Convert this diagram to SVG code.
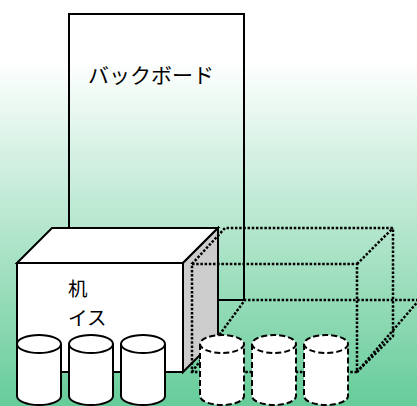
<svg xmlns="http://www.w3.org/2000/svg" width="417" height="406" viewBox="0 0 417 406">
  <defs>
    <linearGradient id="bg" x1="0" y1="0" x2="0" y2="406" gradientUnits="userSpaceOnUse">
      <stop offset="0.148" stop-color="#ffffff"/>
      <stop offset="1" stop-color="#66cc99"/>
    </linearGradient>
    <style>
      .solid { fill: #ffffff; stroke: #000000; stroke-width: 2; stroke-linejoin: miter; }
      .side { fill: #cccccc; stroke: #000000; stroke-width: 2; }
      .dot { fill: none; stroke: #000000; stroke-width: 2.5; stroke-dasharray: 2.5 1.7; }
      .dash { fill: #ffffff; stroke: #000000; stroke-width: 2; stroke-dasharray: 6 3; }
      .label { font-family: "Noto Sans CJK JP", "Noto Sans", sans-serif; font-size: 20px; fill: #000000; }
    </style>
  </defs>

  <rect x="0" y="0" width="417" height="406" fill="url(#bg)"/>

  <!-- back board -->
  <g id="backboard">
    <rect class="solid" x="69" y="14" width="175" height="286" fill-opacity="0"/>
    <text class="label" x="88" y="83" style="font-size:21px">バックボード</text>
  </g>

  <!-- desk box -->
  <g id="desk">
    <polygon class="solid" points="17,263 52,228 218,228 183,263"/>
    <polygon class="side" points="183,263 218,228 218,337 183,372"/>
    <rect class="solid" x="17" y="263" width="166" height="109"/>
    <text class="label" x="68" y="296" style="font-size:19.5px">机<tspan x="68" dy="28.5">イス</tspan></text>
  </g>

  <!-- moved desk outline -->
  <g id="desk-moved">
    <polyline class="dot" points="192,264 225,228 393,228 393,336 357,372"/>
    <polyline class="dot" points="357,264 393,228"/>
    <rect class="dot" x="192" y="264" width="165" height="108"/>
    <polyline class="dot" points="192,372 245,300 417,300"/>
    <polyline class="dot" points="357,372 420,299"/>
  </g>

  <!-- drums -->
  <g id="drum1">
    <path class="solid" d="M17,344 L17,396 A22,9 0 0 0 61,396 L61,344"/>
    <ellipse class="solid" cx="39" cy="344" rx="22" ry="9"/>
  </g>
  <g id="drum2">
    <path class="solid" d="M69,344 L69,396 A22,9 0 0 0 113,396 L113,344"/>
    <ellipse class="solid" cx="91" cy="344" rx="22" ry="9"/>
  </g>
  <g id="drum3">
    <path class="solid" d="M121,344 L121,396 A22,9 0 0 0 165,396 L165,344"/>
    <ellipse class="solid" cx="143" cy="344" rx="22" ry="9"/>
  </g>
  <g id="drum4">
    <path class="dash" d="M200,344 L200,396 A22,9 0 0 0 244,396 L244,344"/>
    <ellipse class="dash" cx="222" cy="344" rx="22" ry="9"/>
  </g>
  <g id="drum5">
    <path class="dash" d="M252,344 L252,396 A22,9 0 0 0 296,396 L296,344"/>
    <ellipse class="dash" cx="274" cy="344" rx="22" ry="9"/>
  </g>
  <g id="drum6">
    <path class="dash" d="M304,344 L304,396 A22,9 0 0 0 348,396 L348,344"/>
    <ellipse class="dash" cx="326" cy="344" rx="22" ry="9"/>
  </g>
</svg>
